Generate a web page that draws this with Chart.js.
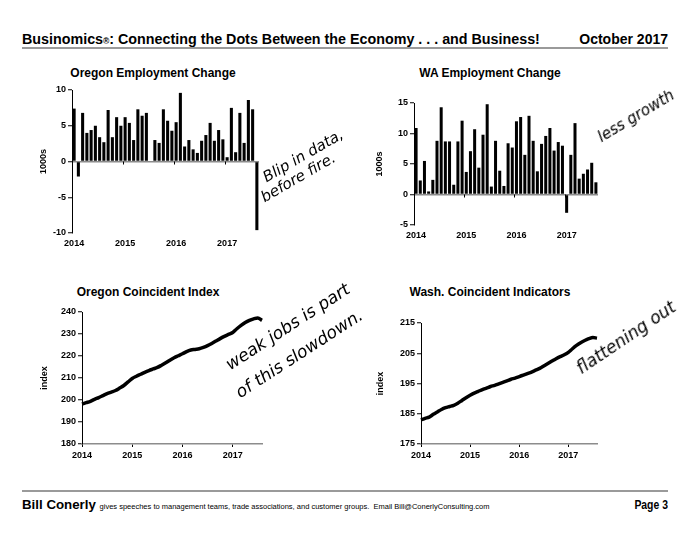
<!DOCTYPE html>
<html><head><meta charset="utf-8">
<script src="https://cdn.jsdelivr.net/npm/chart.js@4"></script>
<style>
body{margin:0;background:#fff;width:700px;height:541px;position:relative;overflow:hidden;font-family:"Liberation Sans",Arial,sans-serif;color:#000;}
.abs{position:absolute;white-space:nowrap;}
canvas{position:absolute;}
.ttl{position:absolute;font-weight:bold;font-size:12px;transform:translate(-50%,-50%);white-space:nowrap;line-height:14px;}
.hand{position:absolute;white-space:nowrap;font-family:"DejaVu Sans";font-weight:200;font-style:italic;transform-origin:0 100%;line-height:1;}
.rule{position:absolute;left:22px;width:646px;height:2px;background:#9a9a9a;}
</style></head>
<body>
<div class="abs" style="left:22px;top:31px;font-weight:bold;font-size:14.3px;line-height:16px;">Businomics<span style="font-size:8.5px;">®</span>: Connecting the Dots Between the Economy . . . and Business!</div>
<div class="abs" style="right:32px;top:31px;font-weight:bold;font-size:14px;line-height:16px;">October 2017</div>
<div class="rule" style="top:47px;"></div>

<div class="ttl" style="left:153px;top:73px;">Oregon Employment Change</div>
<div class="ttl" style="left:490px;top:73px;">WA Employment Change</div>
<div class="ttl" style="left:148px;top:292px;">Oregon Coincident Index</div>
<div class="ttl" style="left:490px;top:292px;">Wash. Coincident Indicators</div>

<canvas id="c1"></canvas>
<canvas id="c2"></canvas>
<canvas id="c3"></canvas>
<canvas id="c4"></canvas>

<div class="hand" style="left:268px;top:170px;font-size:15px;transform:rotate(-30deg);">Blip in data,</div>
<div class="hand" style="left:266px;top:190px;font-size:15px;transform:rotate(-30deg);">before fire.</div>
<div class="hand" style="left:603px;top:130px;font-size:15px;transform:rotate(-31deg);">less growth</div>
<div class="hand" style="left:232px;top:356px;font-size:17px;transform:rotate(-33deg);">weak jobs is part</div>
<div class="hand" style="left:242px;top:384px;font-size:17px;transform:rotate(-33deg);">of this slowdown.</div>
<div class="hand" style="left:583px;top:360px;font-size:17px;transform:rotate(-34deg);">flattening out</div>

<div class="rule" style="top:490px;"></div>
<div class="abs" style="left:22px;top:497px;font-size:13.3px;line-height:15px;"><b>Bill Conerly</b> <span style="font-size:7.5px;">gives speeches to management teams, trade associations, and customer groups.&nbsp; Email Bill@ConerlyConsulting.com</span></div>
<div class="abs" style="right:32px;top:497px;font-weight:bold;font-size:13px;line-height:15px;transform:scaleX(0.8);transform-origin:100% 50%;">Page 3</div>

<script>
// ---- data ----
const years = ['2014', '2015', '2016', '2017'];
const monthNames = ['Jan','Feb','Mar','Apr','May','Jun','Jul','Aug','Sep','Oct','Nov','Dec'];
const months = []; // Jan 2014 .. Aug 2017
years.forEach(y => monthNames.forEach(m => { if (months.length < 44) months.push(m + ' ' + y); }));

const orEmp = [7.4, -2.1, 6.8, 4.0, 4.4, 5.0, 3.4, 2.7, 7.2, 3.4, 6.2, 5.0,
               6.2, 5.4, 3.0, 7.3, 6.4, 6.8, 0, 3.0, 2.6, 7.3, 5.7, 4.3,
               5.5, 9.6, 2.1, 3.0, 1.7, 1.2, 2.9, 3.7, 5.4, 2.9, 4.4, 3.1,
               0.6, 7.5, 1.3, 6.8, 2.6, 8.6, 7.3, -9.6];
const waEmp = [10.9, 2.3, 5.5, 0.5, 2.4, 8.8, 14.3, 8.7, 8.7, 1.6, 8.7, 12.1,
               3.7, 7.1, 10.7, 4.4, 9.8, 14.8, 1.3, 8.8, 3.9, 1.4, 8.4, 7.7,
               12.0, 12.7, 6.5, 12.9, 8.8, 3.8, 8.3, 9.6, 10.9, 7.2, 8.6, 8.0,
               -3.0, 6.5, 11.7, 2.6, 3.4, 4.1, 5.2, 2.0];
const orIndex = [198.2, 198.8, 199.4, 200.3, 201.1, 202.0, 202.9, 203.6, 204.3, 205.4, 206.6, 208.2,
                 209.8, 210.8, 211.7, 212.6, 213.4, 214.1, 214.8, 215.8, 216.9, 218.1, 219.2, 220.1,
                 221.0, 222.0, 222.7, 223.0, 223.3, 223.9, 224.7, 225.7, 226.8, 227.9, 228.9, 229.8,
                 230.7, 232.4, 233.9, 235.2, 236.2, 236.9, 237.3, 236.2];
const waIndex = [183.0, 183.5, 183.9, 184.8, 185.6, 186.4, 187.0, 187.4, 187.8, 188.5, 189.4, 190.3,
                 191.1, 191.8, 192.4, 193.0, 193.5, 194.0, 194.4, 194.9, 195.4, 195.9, 196.4, 196.8,
                 197.3, 197.8, 198.3, 198.8, 199.4, 200.0, 200.8, 201.6, 202.4, 203.2, 203.9, 204.5,
                 205.3, 206.5, 207.6, 208.5, 209.2, 209.8, 210.2, 210.0];
const orEmpTicks = [-10, -5, 0, 5, 10];
const waEmpTicks = [-5, 0, 5, 10, 15];
const orIndexTicks = [180, 190, 200, 210, 220, 230, 240];
const waIndexTicks = [175, 185, 195, 205, 215];

// ---- layout helpers ----
const tickFont = {family: 'Liberation Sans', weight: 'bold', size: 9};
function place(id, area) {
  const c = document.getElementById(id);
  const left = area.L - area.yW, top = area.T - area.pt;
  const w = area.R - area.L + area.yW + area.pr;
  const h = area.B - area.T + area.pt + area.xH;
  c.style.left = left + 'px'; c.style.top = top + 'px';
  c.width = w; c.height = h; c.style.width = w + 'px'; c.style.height = h + 'px';
  return c;
}
// small year tick marks on the zero line of the bar charts
const zeroTicks = {
  id: 'zeroTicks',
  afterDatasetsDraw(chart) {
    if (chart.config.type !== 'bar') return;
    const x = chart.scales.x, y = chart.scales.y, ctx = chart.ctx;
    const y0 = y.getPixelForValue(0);
    const half = (x.getPixelForValue(1) - x.getPixelForValue(0)) / 2;
    ctx.save();
    ctx.strokeStyle = '#000'; ctx.lineWidth = 1;
    for (let i = 12; i < months.length; i += 12) {
      const px = Math.round(x.getPixelForValue(i) - half) + 0.5;
      ctx.beginPath(); ctx.moveTo(px, y0); ctx.lineTo(px, y0 + 3); ctx.stroke();
    }
    ctx.restore();
  }
};
function yScale(ticks, title, yW, zeroLine) {
  return {
    type: 'linear', min: ticks[0], max: ticks[ticks.length - 1],
    afterBuildTicks: s => { s.ticks = ticks.map(v => ({value: v})); },
    afterFit: s => { s.width = yW; },
    ticks: {font: tickFont, color: '#000', padding: 2},
    grid: {
      drawOnChartArea: zeroLine, drawTicks: true, tickLength: 4, tickWidth: 1,
      color: ctx => (zeroLine && ctx.tick && ctx.tick.value === 0) ? '#8c8c8c' : 'rgba(0,0,0,0)',
      lineWidth: 1.5, tickColor: '#000'
    },
    border: {display: true, color: '#000', width: 1},
    title: {display: true, text: title, font: tickFont, color: '#000', padding: 0}
  };
}
function xScale(xH, isBar) {
  const s = {
    type: 'category', offset: isBar,
    afterFit: sc => { sc.height = xH; },
    ticks: {autoSkip: false, maxRotation: 0, minRotation: 0, font: tickFont, color: '#000',
            padding: isBar ? 5 : 3,
            callback: (v, i) => (i % 12 === 0 ? years[i / 12] : '')}
  };
  if (isBar) {
    s.grid = {display: false, drawTicks: false, tickLength: 0};
    s.border = {display: false};
  } else {
    s.grid = {display: true, drawOnChartArea: false, tickLength: 3,
              tickColor: ctx => (ctx.index % 12 === 0 ? '#000' : 'rgba(0,0,0,0)'), color: 'rgba(0,0,0,0)'};
    s.border = {display: true, color: '#8c8c8c', width: 1.5};
  }
  return s;
}
function makeChart(id, area, type, values, ticks, title) {
  const c = place(id, area);
  const isBar = type === 'bar';
  const ds = isBar
    ? {data: values, backgroundColor: '#000', borderWidth: 0, barPercentage: 0.72, categoryPercentage: 1}
    : {data: values, borderColor: '#000', borderWidth: 3.5, pointRadius: 0, tension: 0.4,
       cubicInterpolationMode: 'monotone', fill: false};
  return new Chart(c, {
    type: type,
    data: {labels: months, datasets: [ds]},
    plugins: [zeroTicks],
    options: {
      responsive: false, animation: false, devicePixelRatio: 1,
      layout: {padding: {top: area.pt, right: area.pr, left: 0, bottom: 0}},
      plugins: {legend: {display: false}, tooltip: {enabled: false}, title: {display: false}},
      scales: {x: xScale(area.xH, isBar), y: yScale(ticks, title, area.yW, isBar)}
    }
  });
}

makeChart('c1', {L: 72, T: 90, R: 259, B: 233, yW: 34, pt: 8, pr: 6, xH: 22}, 'bar', orEmp, orEmpTicks, '1000s');
makeChart('c2', {L: 414, T: 103, R: 598, B: 225, yW: 40, pt: 8, pr: 6, xH: 22}, 'bar', waEmp, waEmpTicks, '1000s');
makeChart('c3', {L: 82, T: 312, R: 262, B: 444, yW: 43, pt: 8, pr: 6, xH: 20}, 'line', orIndex, orIndexTicks, 'index');
makeChart('c4', {L: 421, T: 323, R: 597, B: 444, yW: 46, pt: 8, pr: 6, xH: 20}, 'line', waIndex, waIndexTicks, 'index');
</script>
</body></html>
